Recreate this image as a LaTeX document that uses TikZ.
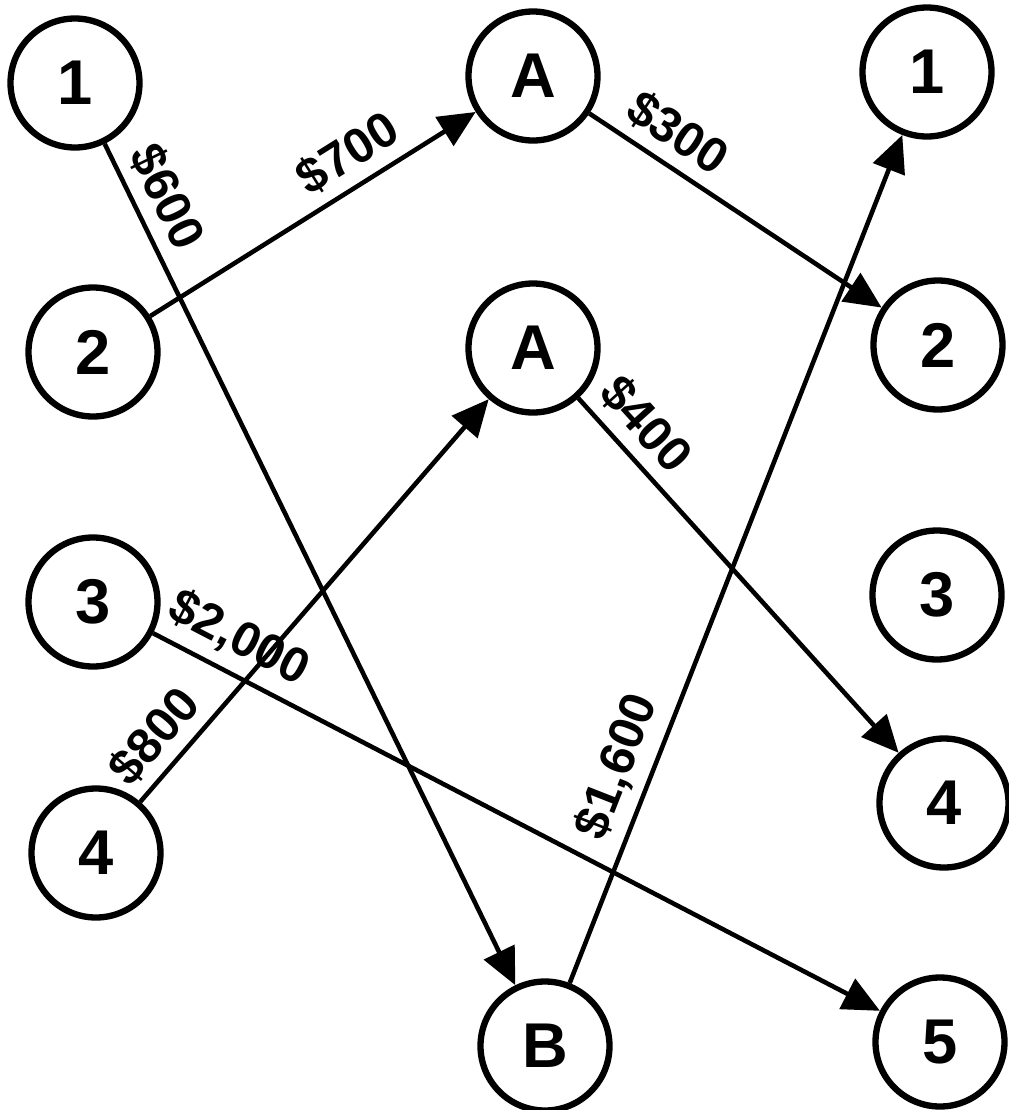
\documentclass[tikz,border=0pt]{standalone}
\usepackage{fontspec}
\setmainfont{Liberation Sans}
\usetikzlibrary{arrows.meta}
\tikzstyle{site} = [circle, draw, line width=1.8pt, minimum size=1.29cm, inner sep=0pt, font=\bfseries\fontsize{18}{18}\selectfont]
\tikzstyle{arrow} = [line width=1.3pt, -{Triangle[length=10.5pt,width=9.5pt]}]
\tikzstyle{cost} = [sloped, above, inner sep=3pt, font=\bfseries\fontsize{14}{14}\selectfont]

\begin{document}
\begin{tikzpicture}[x=0.1mm, y=-0.1mm]
        \useasboundingbox (0,0) rectangle (1008,1110);

        % Left column
        \node [site] (l1) at (75,83) {1};
        \node [site] (l2) at (93,352) {2};
        \node [site] (l3) at (93,602) {3};
        \node [site] (l4) at (96,853) {4};

        % Middle column
        \node [site] (a1) at (533,76) {A};
        \node [site] (a2) at (533,348) {A};
        \node [site] (b) at (545,1046) {B};

        % Right column
        \node [site] (r1) at (927,72) {1};
        \node [site] (r2) at (938,345) {2};
        \node [site] (r3) at (937,595) {3};
        \node [site] (r4) at (944,803) {4};
        \node [site] (r5) at (940,1042) {5};

        % Shipments
        \draw [arrow] (l1) -- node[cost, pos=0.08] {\$600} (b);
        \draw [arrow] (l2) -- node[cost, pos=0.66] {\$700} (a1);
        \draw [arrow] (a1) -- node[cost, pos=0.24] {\$300} (r2);
        \draw [arrow] (l4) -- node[cost, pos=0.11] {\$800} (a2);
        \draw [arrow] (a2) -- node[cost, pos=0.135] {\$400} (r4);
        \draw [arrow] (l3) -- node[cost, pos=0.096] {\$2,000} (r5);
        \draw [arrow] (b) -- node[cost, pos=0.24] {\$1,600} (r1);
    \end{tikzpicture}
\end{document}
